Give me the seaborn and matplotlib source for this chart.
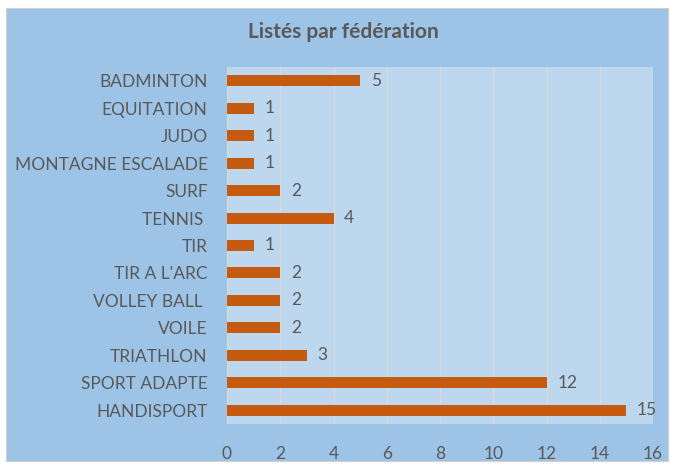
import matplotlib
matplotlib.use("Agg")
import matplotlib.pyplot as plt
import matplotlib.patches as mpatches
import seaborn as sns
import pandas as pd

# --- Données ---
federations = ["BADMINTON", "EQUITATION", "JUDO", "MONTAGNE ESCALADE", "SURF",
               "TENNIS ", "TIR", "TIR A L'ARC", "VOLLEY BALL ", "VOILE",
               "TRIATHLON", "SPORT ADAPTE", "HANDISPORT"]
listes = [5, 1, 1, 1, 2, 4, 1, 2, 2, 2, 3, 12, 15]
xticks = [0, 2, 4, 6, 8, 10, 12, 14, 16]

df = pd.DataFrame({"Federation": federations, "Listes": listes})

# --- Style ---
FOND_EXT = "#9dc3e6"
FOND_INT = "#bdd7ee"
ORANGE = "#c55a11"
GRIS = "#595959"

sns.set_theme(style="white")
plt.rcParams["font.family"] = ["Lato", "DejaVu Sans"]

fig = plt.figure(figsize=(6.75, 4.67), dpi=100, facecolor="white")
fig.patches.append(mpatches.Rectangle((6 / 675, 1 - 461 / 467), 662 / 675, 453 / 467,
                                      transform=fig.transFigure, facecolor=FOND_EXT,
                                      edgecolor="#d0d0d0", linewidth=0.8, zorder=-1))

ax = fig.add_axes([227 / 675, 1 - 424 / 467, 426 / 675, 357 / 467])
ax.set_zorder(1)
ax.set_facecolor(FOND_INT)

sns.barplot(data=df, y="Federation", x="Listes", orient="h", color=ORANGE,
            width=0.4, saturation=1, linewidth=0, ax=ax, zorder=3)

for i, v in enumerate(listes):
    ax.text(v + 0.4, i, str(v), va="center", ha="left", fontsize=12.5, color=GRIS)

ax.set_xlim(0, 16)
ax.set_ylim(len(federations) - 0.5, -0.5)
ax.set_xticks(xticks)
ax.grid(axis="x", color="#d9d9d9", linewidth=1, zorder=0)
ax.set_axisbelow(True)
for s in ax.spines.values():
    s.set_visible(False)
ax.set_xlabel("")
ax.set_ylabel("")
ax.tick_params(axis="y", length=0, pad=14, labelsize=12.5, labelcolor=GRIS)
ax.tick_params(axis="x", length=0, pad=15.5, labelsize=12.5, labelcolor=GRIS)

fig.text(343 / 675, 1 - 32 / 467, "Listés par fédération", ha="center", va="center",
         fontsize=15, fontweight="bold", color=GRIS)

fig.savefig("out.png", dpi=100, facecolor="white")
